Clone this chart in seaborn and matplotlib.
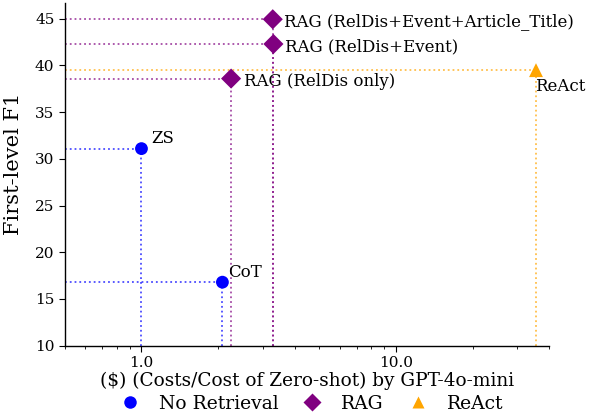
import matplotlib
matplotlib.use("Agg")
import matplotlib.pyplot as plt
import matplotlib.ticker as mticker
from matplotlib.lines import Line2D
import seaborn as sns
import pandas as pd

methods = ["ZS", "CoT", "RAG (RelDis only)", "RAG (RelDis+Event)",
           "RAG (RelDis+Event+Article_Title)", "ReAct"]
cost = [1.0, 2.08, 2.25, 3.3, 3.28, 35.5]
f1 = [31.1, 16.8, 38.6, 42.3, 44.95, 39.5]
group = ["No Retrieval", "No Retrieval", "RAG", "RAG", "RAG", "ReAct"]
groups = ["No Retrieval", "RAG", "ReAct"]
colors = {"No Retrieval": "blue", "RAG": "purple", "ReAct": "orange"}
markers = {"No Retrieval": "o", "RAG": "D", "ReAct": "^"}
msizes = {"No Retrieval": 85, "RAG": 105, "ReAct": 100}

df = pd.DataFrame({"method": methods, "cost": cost, "f1": f1, "group": group})

sns.set_style("white")
plt.rcParams["font.family"] = ["DejaVu Serif"]
plt.rcParams["text.color"] = "black"
plt.rcParams["axes.labelcolor"] = "black"
plt.rcParams["xtick.color"] = "black"
plt.rcParams["ytick.color"] = "black"

fig = plt.figure(figsize=(5.95, 4.16), dpi=100)
ax = fig.add_axes([0.109, 0.169, 0.814, 0.824])

xmin, xmax = 0.5, 40
ymin, ymax = 10, 46.7
ax.set_xscale("log")
ax.set_xlim(xmin, xmax)
ax.set_ylim(ymin, ymax)

for _, r in df.iterrows():
    c = colors[r["group"]]
    ax.plot([xmin, r["cost"]], [r["f1"], r["f1"]], ls=":", color=c, lw=1.3, alpha=0.7, zorder=1)
    ax.plot([r["cost"], r["cost"]], [ymin, r["f1"]], ls=":", color=c, lw=1.3, alpha=0.7, zorder=1)

sns.scatterplot(data=df, x="cost", y="f1", hue="group", style="group", size="group",
                palette=colors, markers=markers, sizes=msizes, edgecolor="none",
                legend=False, ax=ax, zorder=3)

offsets = {
    "ZS": (7, 7, "left", "center"),
    "CoT": (4, 7, "left", "center"),
    "RAG (RelDis only)": (9, -2, "left", "center"),
    "RAG (RelDis+Event)": (8, -2, "left", "center"),
    "RAG (RelDis+Event+Article_Title)": (8, -2, "left", "center"),
    "ReAct": (-1, -12, "left", "center"),
}
for _, r in df.iterrows():
    dx, dy, ha, va = offsets[r["method"]]
    ax.annotate(r["method"], (r["cost"], r["f1"]), xytext=(dx, dy),
                textcoords="offset points", ha=ha, va=va, fontsize=12, color="black")

ax.set_xticks([1, 10])
ax.xaxis.set_major_formatter(mticker.FormatStrFormatter("%.1f"))
ax.xaxis.set_minor_formatter(mticker.NullFormatter())
ax.set_yticks([10, 15, 20, 25, 30, 35, 40, 45])
ax.tick_params(axis="both", which="major", labelsize=11, length=4, bottom=True, left=True)
ax.tick_params(axis="x", which="minor", length=2, bottom=True)

for s in ["top", "right"]:
    ax.spines[s].set_visible(False)
for s in ["left", "bottom"]:
    ax.spines[s].set_color("black")
    ax.spines[s].set_linewidth(1.0)
    ax.spines[s].set_linestyle((0, (1, 1)))

ax.set_xlabel("($) (Costs/Cost of Zero-shot) by GPT-4o-mini", fontsize=13.3, labelpad=1)
ax.set_ylabel("First-level F1", fontsize=15, labelpad=8)
ax.yaxis.set_label_coords(-0.087, 0.53)

handles = [Line2D([0], [0], marker=markers[g], color="none", markerfacecolor=colors[g],
                  markeredgecolor="none", markersize=9, label=g) for g in groups]
fig.legend(handles=handles, loc="center", ncol=3, frameon=False,
           fontsize=13.5, bbox_to_anchor=(0.516, 1 - 404 / 416),
           handletextpad=0.55, columnspacing=0.8, borderaxespad=0)

fig.savefig("out.png", dpi=100)
